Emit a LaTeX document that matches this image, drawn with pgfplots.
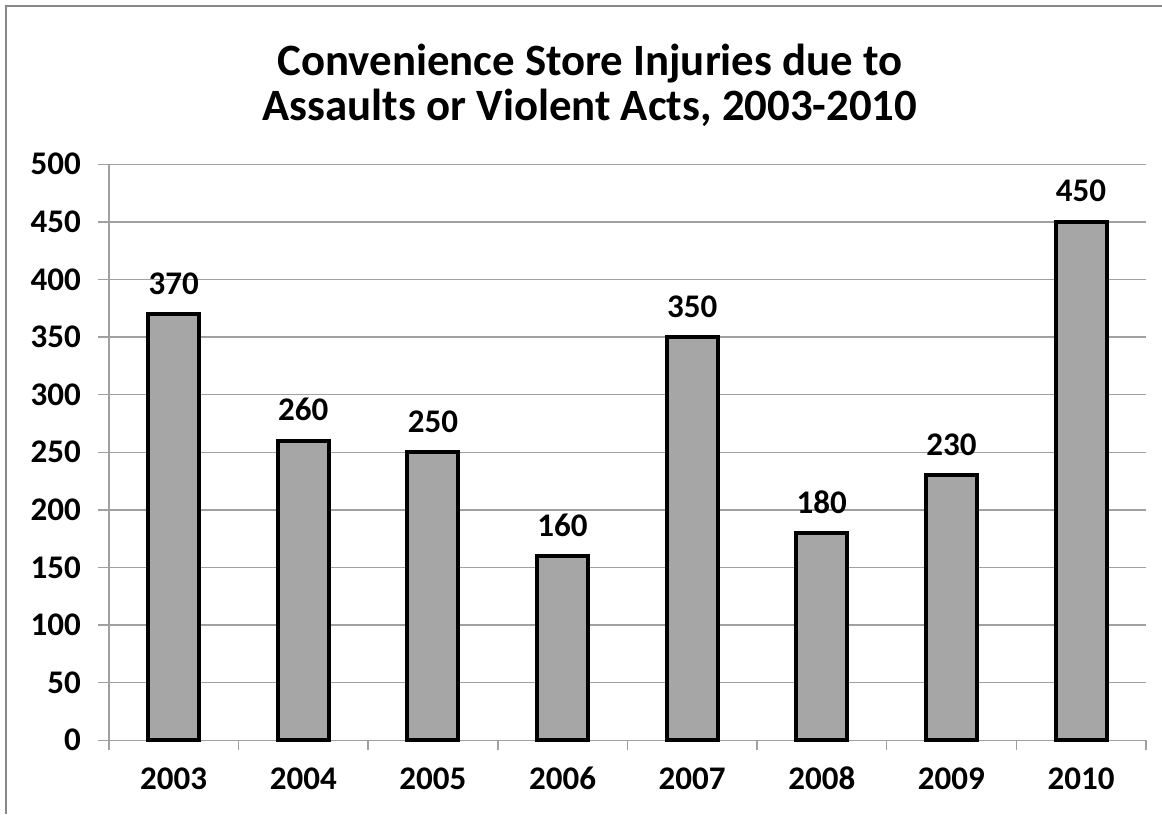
\documentclass[border=0pt]{standalone}
\usepackage{pgfplots}
\pgfplotsset{compat=1.18}
\usepackage{fontspec}
\setmainfont{Carlito}
\definecolor{barfill}{HTML}{A6A6A6}
\definecolor{gridc}{HTML}{A0A0A0}
\begin{document}
\begin{tikzpicture}[x=0.5pt,y=0.5pt]
\draw[gridc!85!black,line width=1.2pt] (6,0) -- (6,808) -- (1162,808);
\node[font=\bfseries\fontsize{22.4}{22.5}\selectfont,align=center] at (590,729) {Convenience Store Injuries due to\\Assaults or Violent Acts, 2003-2010};
\begin{axis}[
  at={(84,64)}, anchor=south west,
  scale only axis, width=518.5pt, height=288pt,
  xmin=-0.5, xmax=7.5, ymin=0, ymax=500,
  ybar, bar width=25.5pt,
  ytick={0,50,...,500},
  xtick={0,...,7},
  xticklabels={2003,2004,2005,2006,2007,2008,2009,2010},
  minor xtick={-0.5,0.5,...,7.5},
  major x tick style={draw=none},
  minor x tick style={gridc,line width=0.75pt},
  minor tick length=5pt,
  major tick length=5.5pt,
  tick align=outside,
  y tick style={gridc,line width=0.75pt},
  ymajorgrids,
  grid style={gridc,line width=0.75pt},
  axis x line*=bottom, axis y line*=left,
  axis line style={gridc,line width=0.75pt},
  /pgf/number format/assume math mode=true,
  ticklabel style={font=\bfseries\fontsize{16.5}{18}\selectfont},
  yticklabel style={xshift=-5pt},
  xticklabel style={yshift=-9pt,text height=0.65em,text depth=0pt},
  nodes near coords,
  every node near coord/.append style={font=\bfseries\fontsize{16.5}{18}\selectfont,yshift=5.5pt},
  clip=false,
]
\addplot[fill=barfill,draw=black,line width=2pt] coordinates {(0,370) (1,260) (2,250) (3,160) (4,350) (5,180) (6,230) (7,450)};
\end{axis}
\pgfresetboundingbox
\path[use as bounding box] (0,0) rectangle (1162,814);
\end{tikzpicture}
\end{document}
